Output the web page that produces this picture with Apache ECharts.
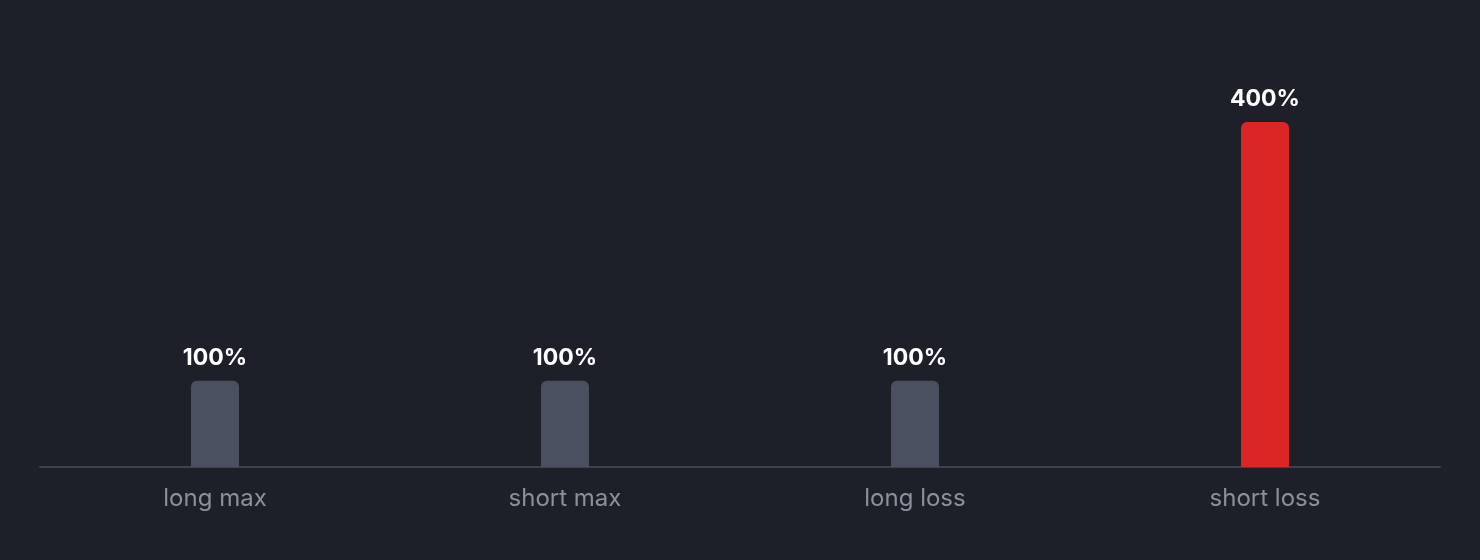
<!DOCTYPE html>
<html><head><meta charset="utf-8">
<script src="https://cdn.jsdelivr.net/npm/echarts@6/dist/echarts.min.js"></script>
<style>html,body{margin:0;padding:0;background:#1e2029;}#c{width:1480px;height:560px;}</style>
</head><body><div id="c"></div>
<script>
const categories = ['long max', 'short max', 'long loss', 'short loss'];
const values = [100, 100, 100, 400];
const barColors = ['#4b5060', '#4b5060', '#4b5060', '#dc2626'];

const chart = echarts.init(document.getElementById('c'));
chart.setOption({
  backgroundColor: '#1e2029',
  animation: false,
  grid: { left: 40, right: 40, top: 122, bottom: 93, containLabel: false },
  xAxis: {
    type: 'category', data: categories,
    axisLine: { lineStyle: { color: '#3d4150', width: 2 } },
    axisTick: { show: false },
    axisLabel: { color: '#8d909c', fontSize: 24, fontFamily: 'Inter', margin: 20 }
  },
  yAxis: { type: 'value', min: 0, max: 400, show: false, splitLine: { show: false } },
  series: [{
    type: 'bar', barWidth: 48,
    data: values.map((v, i) => ({ value: v, itemStyle: { color: barColors[i] } })),
    itemStyle: { borderRadius: [6, 6, 0, 0] },
    label: { show: true, position: 'top', distance: 11, color: '#ffffff', fontSize: 23, fontWeight: 'bold', fontFamily: 'Inter', formatter: p => p.value + '%' }
  }]
});
</script></body></html>
